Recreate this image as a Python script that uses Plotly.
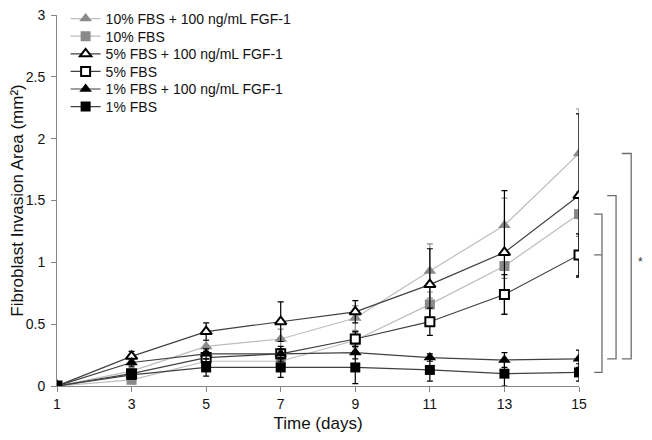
import plotly.graph_objects as go

days = [1, 3, 5, 7, 9, 11, 13, 15]

names = [
    "10% FBS + 100 ng/mL FGF-1",
    "10% FBS",
    "5% FBS + 100 ng/mL FGF-1",
    "5% FBS",
    "1% FBS + 100 ng/mL FGF-1",
    "1% FBS",
]

fbs10_fgf = [0, 0.12, 0.32, 0.38, 0.55, 0.93, 1.30, 1.88]
fbs10 = [0, 0.05, 0.20, 0.20, 0.37, 0.66, 0.97, 1.39]
fbs5_fgf = [0, 0.24, 0.44, 0.52, 0.60, 0.82, 1.08, 1.54]
fbs5 = [0, 0.10, 0.23, 0.26, 0.38, 0.52, 0.74, 1.06]
fbs1_fgf = [0, 0.19, 0.26, 0.26, 0.27, 0.23, 0.21, 0.22]
fbs1 = [0, 0.09, 0.15, 0.15, 0.15, 0.13, 0.10, 0.11]

err10_fgf = [0, 0.03, 0.05, 0.08, 0.10, 0.22, 0.22, 0.36]
err10 = [0, 0.02, 0.04, 0.05, 0.06, 0.10, 0.10, 0.18]
err5_fgf = [0, 0.04, 0.07, 0.16, 0.09, 0.29, 0.50, 0.66]
err5 = [0, 0.03, 0.05, 0.06, 0.06, 0.11, 0.16, 0.17]
err1_fgf = [0, 0.03, 0.04, 0.04, 0.05, 0.03, 0.06, 0.07]
err1 = [0, 0.03, 0.07, 0.08, 0.13, 0.09, 0.10, 0.07]

series = [fbs10_fgf, fbs10, fbs5_fgf, fbs5, fbs1_fgf, fbs1]
errors = [err10_fgf, err10, err5_fgf, err5, err1_fgf, err1]

GRAY_M = "#8a8a8a"
GRAY_L = "#bdbdbd"
DARK_L = "#404040"

styles = [
    dict(symbol="triangle-up", fill=GRAY_M, edge=GRAY_M, line=GRAY_L, err=GRAY_M, size=11),
    dict(symbol="square", fill=GRAY_M, edge=GRAY_M, line=GRAY_L, err=GRAY_M, size=10),
    dict(symbol="triangle-up", fill="white", edge="black", line=DARK_L, err="black", size=10),
    dict(symbol="square", fill="white", edge="black", line=DARK_L, err="black", size=9),
    dict(symbol="triangle-up", fill="black", edge="black", line=DARK_L, err="black", size=11),
    dict(symbol="square", fill="black", edge="black", line=DARK_L, err="black", size=10),
]

# the page body adds 8px around the figure; margins compensate for it
ML, MR, MT, MB = 49, 81, 7, 62
W, H = 652, 440
PLOT_H = H - MT - MB

fig = go.Figure()
legend_layout = {}
for i, (name, ys, es, st) in enumerate(zip(names, series, errors, styles)):
    lg = "legend" if i == 0 else f"legend{i + 1}"
    fig.add_trace(go.Scatter(
        x=days, y=ys, name=name, mode="lines+markers", legend=lg,
        line=dict(color=st["line"], width=1.2),
        marker=dict(symbol=st["symbol"], size=st["size"], color=st["fill"],
                    line=dict(color=st["edge"], width=2 if st["fill"] == "white" else 0)),
        error_y=dict(type="data", array=es, visible=True, color=st["err"],
                     thickness=1.2, width=3),
    ))
    legend_layout[lg] = dict(
        x=0.0165, y=1 - (4 + i * 17.6) / PLOT_H, xanchor="left", yanchor="middle",
        bgcolor="rgba(0,0,0,0)", font=dict(size=14, color="#111"),
    )

# significance brackets at day 15
bracket_col = "#6e6e6e"
brackets = [
    (1.029, 1.044, fbs10[-1], fbs1[-1], fbs5[-1]),
    (1.054, 1.071, fbs5_fgf[-1], fbs1_fgf[-1], None),
    (1.082, 1.100, fbs10_fgf[-1], fbs1_fgf[-1], None),
]
shapes = []
for x0, x1, ytop, ybot, ymid in brackets:
    path = f"M {x0} {ytop} L {x1} {ytop} L {x1} {ybot} L {x0} {ybot}"
    if ymid is not None:
        path += f" M {x0} {ymid} L {x1} {ymid}"
    shapes.append(dict(type="path", path=path, xref="paper", yref="y",
                       line=dict(color=bracket_col, width=1.3)))

fig.update_layout(
    width=W, height=H,
    margin=dict(l=ML, r=MR, t=MT, b=MB, autoexpand=False),
    paper_bgcolor="white", plot_bgcolor="white",
    font=dict(family="Liberation Sans, Arial, sans-serif", size=14, color="#111"),
    showlegend=True,
    shapes=shapes,
    annotations=[dict(text="*", x=1.126, y=1.0, xref="paper", yref="y",
                      showarrow=False, font=dict(size=12, color="#333"))],
    xaxis=dict(range=[1, 15], tickvals=days, ticktext=[str(d) for d in days],
               showgrid=False, zeroline=False, showline=True, linecolor="#868686",
               linewidth=1, ticks="outside", ticklen=5, tickcolor="#868686",
               automargin=False, ticklabeloverflow="allow",
               title=dict(text="Time (days)", standoff=6)),
    yaxis=dict(range=[0, 3], tickvals=[0, 0.5, 1, 1.5, 2, 2.5, 3],
               ticktext=["0", "0.5", "1", "1.5", "2", "2.5", "3"],
               showgrid=False, zeroline=False, showline=True, linecolor="#868686",
               linewidth=1, ticks="outside", ticklen=5, tickcolor="#868686",
               ticklabelstandoff=3, automargin=False, ticklabeloverflow="allow",
               title=dict(text="Fibroblast Invasion Area (mm²)", standoff=2)),
    **legend_layout,
)

fig.write_html("out.html")
